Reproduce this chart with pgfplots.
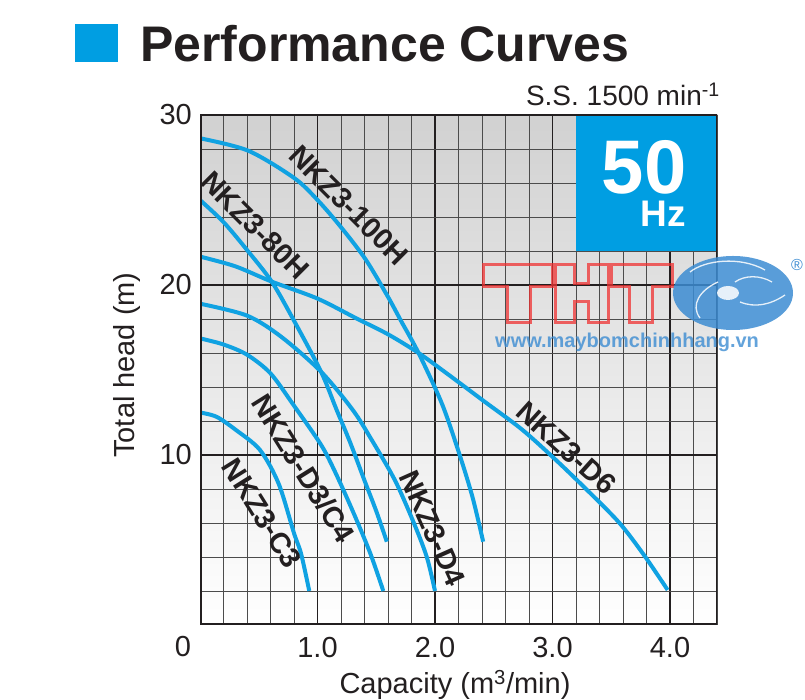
\documentclass[border=0pt]{standalone}
\usepackage{pgfplots}
\pgfplotsset{compat=1.18}
\usepackage{fontspec}
\setmainfont{Liberation Sans}
\definecolor{cblue}{RGB}{16,162,226}
\definecolor{hzblue}{RGB}{0,158,226}
\definecolor{txt}{RGB}{35,31,32}
\definecolor{wmred}{RGB}{240,50,50}
\definecolor{wmblue}{RGB}{60,140,210}
\newcommand{\fs}[1]{\fontsize{#1}{#1}\selectfont}
\begin{document}
\begin{tikzpicture}[x=1pt,y=1pt]
\useasboundingbox (0,0) rectangle (805,700);
\begin{axis}[
  at={(200pt,75pt)}, anchor=south west,
  scale only axis, width=517pt, height=510pt,
  xmin=0, xmax=4.4, ymin=0, ymax=30,
  xtick={1,2,3,4}, xticklabels={1.0,2.0,3.0,4.0},
  ytick={10,20,30}, yticklabels={10,20,30},
  minor xtick={0,0.2,...,4.4},
  minor ytick={2,4,...,28},
  grid=both,
  major grid style={txt, line width=1.8pt},
  minor grid style={black!70, line width=0.9pt},
  major tick length=0pt, minor tick length=0pt,
  axis line style={draw=none},
  axis background/.style={shade, top color=black!18, bottom color=white},
  tick label style={font=\fs{29}, text=txt, inner sep=0pt},
  xticklabel style={anchor=north, yshift=-12pt},
  yticklabel style={anchor=east, xshift=-8pt},
  /pgf/number format/assume math mode=true,
]
% NKZ3-100H
\addplot[cblue, line width=4pt, smooth] coordinates {
 (0,28.63) (0.41,27.9) (0.8,26.3) (1.0,25.0) (1.2,23.4) (1.41,21.5) (1.6,19.3)
 (1.71,17.9) (1.86,16.0) (2.06,13.0) (2.21,10.0) (2.32,7.5) (2.41,4.9)};
% NKZ3-80H
\addplot[cblue, line width=4pt, smooth] coordinates {
 (0,25.0) (0.2,23.7) (0.4,22.06) (0.61,20.2) (0.8,17.9) (1.03,14.9) (1.16,12.7)
 (1.28,10.7) (1.40,8.5) (1.5,6.7) (1.59,4.9)};
% NKZ3-D6
\addplot[cblue, line width=4pt, smooth] coordinates {
 (0,21.67) (0.3,21.1) (0.61,20.2) (1.0,19.2) (1.33,18.04) (1.6,17.1) (1.86,16.0)
 (2.1,14.8) (2.41,13.2) (2.74,11.5) (3.03,9.7) (3.3,7.9) (3.57,6.0) (3.78,4.1) (3.98,2.06)};
% NKZ3-D4
\addplot[cblue, line width=4pt, smooth] coordinates {
 (0,18.9) (0.4,18.2) (0.69,16.96) (1.03,14.9) (1.3,12.65) (1.46,10.9) (1.66,8.5)
 (1.82,6.0) (1.93,4.0) (2.0,2.0)};
% NKZ3-D3/C4
\addplot[cblue, line width=4pt, smooth] coordinates {
 (0,16.86) (0.2,16.5) (0.4,15.9) (0.6,14.8) (0.8,12.9) (1.03,10.6) (1.15,9.0)
 (1.3,6.7) (1.45,4.2) (1.56,2.0)};
% NKZ3-C3
\addplot[cblue, line width=4pt, smooth] coordinates {
 (0,12.5) (0.14,12.25) (0.3,11.5) (0.51,10.3) (0.67,8.3) (0.8,5.4) (0.86,4.2) (0.93,2.0)};

\node[rotate=-45, font=\bfseries\fs{29}, text=txt] at (axis cs:1.267,24.7) {NKZ3-100H};
\node[rotate=-45, font=\bfseries\fs{29}, text=txt] at (axis cs:0.47,23.5) {NKZ3-80H};
\node[rotate=-58, font=\bfseries\fs{29}, text=txt] at (axis cs:0.88,9.2) {NKZ3-D3/C4};
\node[rotate=-58, font=\bfseries\fs{29}, text=txt] at (axis cs:0.526,6.57) {NKZ3-C3};
\node[rotate=-66, font=\bfseries\fs{29}, text=txt] at (axis cs:1.98,5.69) {NKZ3-D4};
\node[rotate=-42, font=\bfseries\fs{29}, text=txt] at (axis cs:3.12,10.4) {NKZ3-D6};

\fill[hzblue] (axis cs:3.2,22) rectangle (axis cs:4.4,30);
\node[white, font=\bfseries\fs{76}] at (axis cs:3.78,26.94) {50};
\node[white, font=\bfseries\fs{37}] at (axis cs:3.94,24.2) {Hz};
\draw[txt, line width=3pt] (rel axis cs:0,0) rectangle (rel axis cs:1,1);
\end{axis}

% titles and labels
\fill[hzblue] (75,638) rectangle (118,676);
\node[anchor=base west, inner sep=0, font=\bfseries\fs{50}, text=txt] at (140,638) {Performance Curves};
\node[anchor=base east, inner sep=0, font=\fs{28}, text=txt] at (720,594) {S.S. 1500 min\textsuperscript{-1}};
\node[rotate=90, inner sep=0, font=\fs{29}, text=txt] at (127,335) {Total head (m)};
\node[anchor=base, inner sep=0, font=\fs{29}, text=txt] at (455,6) {Capacity (m\textsuperscript{3}/min)};
\node[inner sep=0, font=\fs{29}, text=txt] at (183,53) {0};

% watermark
\begin{scope}[wmred, line width=3pt, opacity=0.75, line join=miter]
\draw (483,435)--(552,435)--(552,413)--(530,413)--(530,377)--(507,377)--(507,413)--(483,413)--cycle;
\draw (555,435)--(574,435)--(574,416)--(588,416)--(588,435)--(608,435)--(608,377)--(588,377)--(588,398)--(574,398)--(574,377)--(555,377)--cycle;
\draw (611,435)--(672,435)--(672,413)--(652,413)--(652,377)--(629,377)--(629,413)--(611,413)--cycle;
\end{scope}
\fill[wmblue, opacity=0.85] (733,407) ellipse (60 and 37);
\begin{scope}[white, line width=1.3pt, opacity=0.85]
\draw (690,428) .. controls (705,440) and (740,444) .. (765,430);
\draw (718,418) .. controls (700,410) and (690,395) .. (700,382);
\draw (740,398) .. controls (755,392) and (770,395) .. (785,405);
\draw (735,418) .. controls (745,425) and (760,425) .. (772,418);
\fill (728,407) ellipse (11 and 7);
\end{scope}
\node[text=wmblue, font=\fs{16}] at (797,435) {®};
\node[anchor=base west, inner sep=0, font=\bfseries\fs{20}, text=wmblue, opacity=0.8] at (495,352) {www.maybomchinhhang.vn};
\end{tikzpicture}
\end{document}
